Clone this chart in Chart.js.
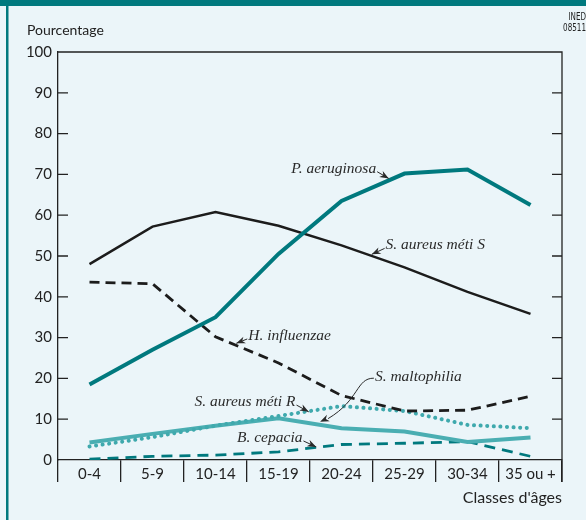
<!DOCTYPE html>
<html>
<head>
<meta charset="utf-8">
<script src="https://cdn.jsdelivr.net/npm/chart.js@4"></script>
<style>
  body { margin: 0; background: #ebf5f9; }
  canvas { display: block; }
</style>
</head>
<body>
<canvas id="grafico" width="586" height="520"></canvas>
<script>
// classes d'âges
const classes = ['0-4', '5-9', '10-14', '15-19', '20-24', '25-29', '30-34', '35 ou +'];

// pourcentages
const pAeruginosa = [18.5, 27, 35, 50.5, 63.5, 70.2, 71.2, 62.5];
const sAureusS = [48, 57.2, 60.8, 57.4, 52.6, 47.2, 41.2, 35.8];
const hInfluenzae = [43.6, 43.2, 30.2, 23.8, 15.8, 12, 12.2, 15.6];
const sAureusR = [3.3, 5.6, 8.4, 10.8, 13.2, 12, 8.6, 7.8];
const sMaltophilia = [4.3, 6.4, 8.4, 10.2, 7.8, 7, 4.4, 5.5];
const bCepacia = [0.2, 0.9, 1.2, 2, 3.8, 4.1, 4.5, 0.9];

const yTicks = [0, 10, 20, 30, 40, 50, 60, 70, 80, 90, 100];

// étiquettes : texte, position du texte (indice, valeur), pointe de la flèche
const etiquettes = [
  { texte: 'P. aeruginosa', x: 4.55, y: 71.4, align: 'right', fleche: [4.75, 69.0] },
  { texte: 'S. aureus méti S', x: 4.7, y: 52.6, align: 'left', fleche: [4.48, 50.4] },
  { texte: 'H. influenzae', x: 2.52, y: 30.4, align: 'left', fleche: [2.33, 28.6] },
  { texte: 'S. maltophilia', x: 4.53, y: 20.3, align: 'left', fleche: [3.66, 9.4], courbe: true },
  { texte: 'S. aureus méti R', x: 3.27, y: 14.2, align: 'right', fleche: [3.48, 11.8] },
  { texte: 'B. cepacia', x: 3.38, y: 5.4, align: 'right', fleche: [3.6, 3.2] }
];

const teal = '#00797e';
const tealClair = '#3fa9ad';

function serie(label, data, color, width, dash) {
  return {
    label: label,
    data: data,
    borderColor: color,
    borderWidth: width,
    borderDash: dash || [],
    borderCapStyle: dash && dash[0] < 1 ? 'round' : 'butt',
    pointRadius: 0,
    tension: 0,
    fill: false
  };
}

function pointe(ctx, x0, y0, x1, y1) {
  const a = Math.atan2(y1 - y0, x1 - x0);
  const l = 9, w = 3.5;
  ctx.beginPath();
  ctx.moveTo(x1, y1);
  ctx.lineTo(x1 - l * Math.cos(a) + w * Math.sin(a), y1 - l * Math.sin(a) - w * Math.cos(a));
  ctx.lineTo(x1 - l * 0.7 * Math.cos(a), y1 - l * 0.7 * Math.sin(a));
  ctx.lineTo(x1 - l * Math.cos(a) - w * Math.sin(a), y1 - l * Math.sin(a) + w * Math.cos(a));
  ctx.closePath();
  ctx.fill();
}

const decor = {
  id: 'decor',
  beforeDraw(chart) {
    const ctx = chart.ctx;
    ctx.save();
    ctx.fillStyle = '#ebf5f9';
    ctx.fillRect(0, 0, chart.width, chart.height);
    ctx.fillStyle = teal;
    ctx.fillRect(0, 0, chart.width, 6);
    ctx.fillRect(6, 0, 2.5, chart.height);
    ctx.restore();
  },
  afterDraw(chart) {
    const ctx = chart.ctx;
    const a = chart.chartArea;
    const xs = chart.scales.x, ys = chart.scales.y;
    ctx.save();
    ctx.strokeStyle = '#222';
    ctx.lineWidth = 1.3;
    // cadre haut et droit
    ctx.beginPath();
    ctx.moveTo(a.left, a.top);
    ctx.lineTo(a.right, a.top);
    ctx.lineTo(a.right, xs.bottom - 38);
    ctx.stroke();
    // graduations intérieures
    yTicks.forEach(v => {
      if (v === 0 || v === 100) return;
      const y = ys.getPixelForValue(v);
      ctx.beginPath();
      ctx.moveTo(a.left, y); ctx.lineTo(a.left + 10, y);
      ctx.moveTo(a.right, y); ctx.lineTo(a.right - 10, y);
      ctx.stroke();
    });
    // textes
    ctx.fillStyle = '#222';
    ctx.font = '14px Lato';
    ctx.textBaseline = 'alphabetic';
    ctx.textAlign = 'left';
    ctx.fillText('Pourcentage', 27, 35);
    ctx.font = '16px Lato';
    ctx.textAlign = 'right';
    ctx.fillText("Classes d'âges", a.right, 503);
    ctx.font = '10px "DejaVu Sans Condensed", "DejaVu Sans"';
    ctx.save();
    ctx.translate(chart.width, 0);
    ctx.scale(0.8, 1);
    ctx.fillText('INED', 0, 20);
    ctx.fillText('08511', 0, 31);
    ctx.restore();
    // étiquettes des courbes
    ctx.font = 'italic 15.5px "Liberation Serif"';
    ctx.textBaseline = 'middle';
    etiquettes.forEach(e => {
      const tx = xs.getPixelForValue(e.x), ty = ys.getPixelForValue(e.y);
      const hx = xs.getPixelForValue(e.fleche[0]), hy = ys.getPixelForValue(e.fleche[1]);
      ctx.fillStyle = '#2a2a2a';
      ctx.textAlign = e.align;
      ctx.fillText(e.texte, tx, ty);
      const sx = e.align === 'right' ? tx + 1 : tx - 1;
      ctx.strokeStyle = '#2a2a2a';
      ctx.lineWidth = 1;
      ctx.beginPath();
      if (e.courbe) {
        ctx.moveTo(sx, ty + 1);
        ctx.bezierCurveTo(sx - 18, ty + 1, sx - 14, hy - 22, hx + 8, hy - 3);
        ctx.stroke();
        pointe(ctx, hx + 16, hy - 7, hx, hy);
      } else {
        const sy = ty + 3;
        ctx.moveTo(sx, sy);
        ctx.lineTo(hx, hy);
        ctx.stroke();
        pointe(ctx, sx, sy, hx, hy);
      }
    });
    ctx.restore();
  }
};

new Chart(document.getElementById('grafico'), {
  type: 'line',
  data: {
    labels: classes,
    datasets: [
      serie('P. aeruginosa', pAeruginosa, teal, 4),
      serie('S. aureus méti S', sAureusS, '#1c1c1c', 2.5),
      serie('H. influenzae', hInfluenzae, '#1c1c1c', 2.8, [10, 6]),
      serie('S. aureus méti R', sAureusR, tealClair, 4, [0.1, 6.5]),
      serie('S. maltophilia', sMaltophilia, '#4aaeb2', 4),
      serie('B. cepacia', bCepacia, teal, 2.8, [11, 7])
    ]
  },
  options: {
    responsive: false,
    animation: false,
    layout: { padding: { left: 0, right: 24, top: 52, bottom: 0 } },
    plugins: { legend: { display: false }, tooltip: { enabled: false } },
    scales: {
      x: {
        offset: true,
        grid: { offset: true, drawOnChartArea: false, drawTicks: true, tickLength: 22, color: '#222', lineWidth: 1.3 },
        border: { display: true, color: '#222', width: 1.3 },
        ticks: { color: '#222', font: { family: 'Lato', size: 15 }, padding: -17, maxRotation: 0 },
        afterFit: s => { s.height = 60; }
      },
      y: {
        min: 0,
        max: 100,
        grid: { display: false, drawTicks: false },
        border: { display: true, color: '#222', width: 1.3 },
        ticks: { stepSize: 10, color: '#222', font: { family: 'Lato', size: 15 }, padding: 6 },
        afterFit: s => { s.width = 58; }
      }
    }
  },
  plugins: [decor]
});
</script>
</body>
</html>
